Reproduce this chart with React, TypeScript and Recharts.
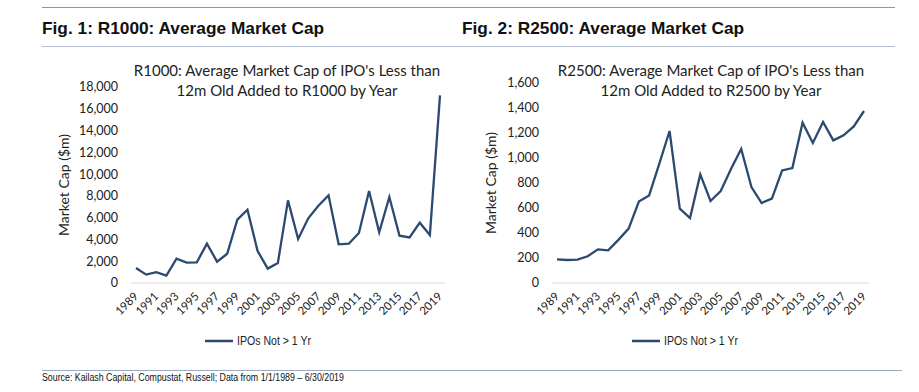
import React from 'react';
import { LineChart, Line, XAxis, YAxis } from 'recharts';

const years = [
  '1989', '1990', '1991', '1992', '1993', '1994', '1995', '1996', '1997', '1998',
  '1999', '2000', '2001', '2002', '2003', '2004', '2005', '2006', '2007', '2008',
  '2009', '2010', '2011', '2012', '2013', '2014', '2015', '2016', '2017', '2018', '2019',
];

const r1000Values = [
  1380, 770, 1000, 670, 2230, 1870, 1900, 3610, 1960, 2690,
  5820, 6730, 2940, 1320, 1840, 7590, 4040, 5940, 7100, 8050,
  3550, 3610, 4590, 8450, 4650, 7900, 4350, 4190, 5540, 4410, 17230,
];

const r2500Values = [
  189, 184, 187, 214, 269, 261, 345, 435, 651, 701,
  955, 1216, 595, 520, 869, 656, 736, 912, 1072, 768,
  640, 675, 901, 920, 1283, 1120, 1288, 1141, 1181, 1253, 1376,
];

const r1000Ticks = [0, 2000, 4000, 6000, 8000, 10000, 12000, 14000, 16000, 18000];
const r2500Ticks = [0, 200, 400, 600, 800, 1000, 1200, 1400, 1600];

const seriesName = 'IPOs Not > 1 Yr';
const fig1Title = 'Fig. 1: R1000: Average Market Cap';
const fig2Title = 'Fig. 2: R2500: Average Market Cap';
const chart1Title = ["R1000: Average Market Cap of IPO's Less than", '12m Old Added to R1000 by Year'];
const chart2Title = ["R2500: Average Market Cap of IPO's Less than", '12m Old Added to R2500 by Year'];
const yLabel = 'Market Cap ($m)';
const sourceText = 'Source: Kailash Capital, Compustat, Russell; Data from 1/1/1989 \u2013 6/30/2019';

const LINE_COLOR = '#2c4a70';
const BODY_FONT = 'Lato, "Noto Sans", sans-serif';
const BOLD_FONT = '"Liberation Sans", Arial, sans-serif';
const NARROW_FONT = '"Liberation Sans Narrow", "Arial Narrow", "Liberation Sans", sans-serif';

const r1000Data = years.map((year, i) => ({ year, value: r1000Values[i] }));
const r2500Data = years.map((year, i) => ({ year, value: r2500Values[i] }));

const fmt = (v: number) => v.toLocaleString('en-US');

const RotTick = (props: any) => {
  const { x, y, payload } = props;
  return (
    <g transform={`translate(${x + 3},${y + 6}) rotate(-45)`}>
      <text x={0} y={0} textAnchor="end" fontSize={11.5} fontFamily={BODY_FONT} fill="#222">
        {payload.value}
      </text>
    </g>
  );
};

type ChartProps = {
  data: { year: string; value: number }[];
  ticks: number[];
  left: number;
  width: number;
  marginTop: number;
  marginLeft: number;
  marginRight: number;
  yWidth: number;
};

const HEIGHT = 350;
const X_HEIGHT = 50;
const PLOT_BOTTOM = 283;

const Chart = ({ data, ticks, left, width, marginTop, marginLeft, marginRight, yWidth }: ChartProps) => (
  <div style={{ position: 'absolute', left, top: 0 }}>
    <LineChart
      width={width}
      height={HEIGHT}
      data={data}
      margin={{ top: marginTop, right: marginRight, left: marginLeft, bottom: HEIGHT - PLOT_BOTTOM - X_HEIGHT }}
    >
      <XAxis
        dataKey="year"
        interval={1}
        tickLine={false}
        axisLine={{ stroke: '#d9d9d9', strokeWidth: 1 }}
        padding={{ left: 5, right: 5 }}
        height={X_HEIGHT}
        tick={<RotTick />}
      />
      <YAxis
        domain={[0, ticks[ticks.length - 1]]}
        ticks={ticks}
        tickFormatter={fmt}
        axisLine={false}
        tickLine={false}
        tickMargin={7}
        width={yWidth}
        tick={{ fontSize: 12.5, fontFamily: BODY_FONT, fill: '#222' }}
        label={{
          value: yLabel,
          angle: -90,
          position: 'center',
          style: { fontSize: 14, fontFamily: BODY_FONT, fill: '#222' },
        }}
      />
      <Line
        type="linear"
        dataKey="value"
        name={seriesName}
        stroke={LINE_COLOR}
        strokeWidth={2.3}
        dot={false}
        activeDot={false}
        isAnimationActive={false}
      />
    </LineChart>
  </div>
);

const ChartTitle = ({ lines, cx }: { lines: string[]; cx: number }) => (
  <div
    style={{
      position: 'absolute',
      left: cx - 200,
      width: 400,
      top: 60,
      textAlign: 'center',
      fontFamily: BODY_FONT,
      fontSize: 15,
      lineHeight: '20px',
      color: '#222',
    }}
  >
    {lines.map((l) => (
      <div key={l}>{l}</div>
    ))}
  </div>
);

const LegendItem = ({ x }: { x: number }) => (
  <div style={{ position: 'absolute', left: x, top: 333, height: 16, display: 'flex', alignItems: 'center' }}>
    <svg width={28} height={16} style={{ display: 'block' }}>
      <line x1={0} y1={8} x2={28} y2={8} stroke={LINE_COLOR} strokeWidth={2.5} />
    </svg>
    <span
      style={{
        marginLeft: 4,
        fontFamily: NARROW_FONT,
        fontSize: 12,
        color: '#222',
        whiteSpace: 'nowrap',
        display: 'inline-block',
        transform: 'scaleX(0.88)',
        transformOrigin: 'left center',
      }}
    >
      {seriesName}
    </span>
  </div>
);

const figTitleStyle: React.CSSProperties = {
  position: 'absolute',
  top: 18,
  fontFamily: BOLD_FONT,
  fontWeight: 'bold',
  fontSize: 17.3,
  color: '#111',
  whiteSpace: 'nowrap',
};

export default function App() {
  return (
    <div
      style={{
        position: 'absolute',
        left: 0,
        top: 0,
        width: 919,
        height: 392,
        background: '#fff',
        overflow: 'hidden',
      }}
    >
      <div style={{ position: 'absolute', left: 42, top: 7, width: 853, height: 0, borderTop: '1.5px solid #8799b2' }} />
      <div style={{ position: 'absolute', left: 42, top: 46, width: 853, height: 0, borderTop: '1.5px solid #b4c0d1' }} />
      <div style={{ ...figTitleStyle, left: 42 }}>{fig1Title}</div>
      <div style={{ ...figTitleStyle, left: 462 }}>{fig2Title}</div>

      <Chart data={r1000Data} ticks={r1000Ticks} left={-10} width={470} marginTop={87} marginLeft={7} marginRight={15} yWidth={134} />
      <Chart data={r2500Data} ticks={r2500Ticks} left={430} width={470} marginTop={83} marginLeft={0} marginRight={31} yWidth={122} />

      <ChartTitle lines={chart1Title} cx={287} />
      <ChartTitle lines={chart2Title} cx={711} />

      <LegendItem x={205} />
      <LegendItem x={632} />

      <div style={{ position: 'absolute', left: 42, top: 370, width: 860, height: 0, borderTop: '1px solid #9aaac2' }} />
      <div
        style={{
          position: 'absolute',
          left: 42,
          top: 372,
          fontFamily: NARROW_FONT,
          fontSize: 10,
          color: '#111',
          whiteSpace: 'nowrap',
          transform: 'scaleX(0.88)',
          transformOrigin: 'left center',
        }}
      >
        {sourceText}
      </div>
    </div>
  );
}
